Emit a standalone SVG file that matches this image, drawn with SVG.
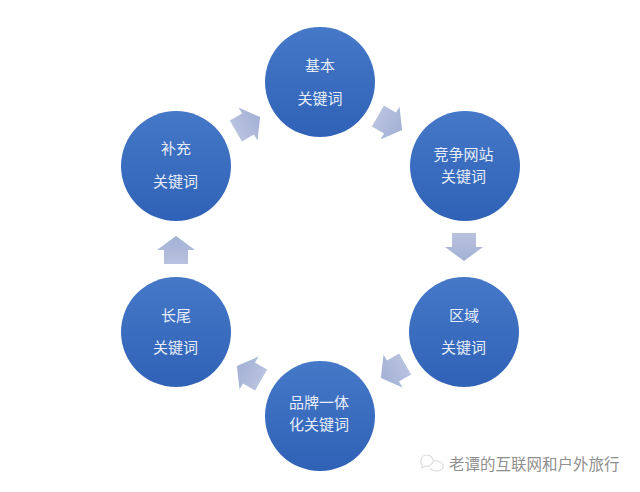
<svg xmlns="http://www.w3.org/2000/svg" width="640" height="492" viewBox="0 0 640 492">
<style>
.n{fill:url(#c)}
.t{font-family:"Noto Sans CJK SC","Noto Sans",sans-serif;font-size:15px;fill:#e6edf9;text-anchor:middle}
.a{fill:url(#g)}
.w{font-family:"Noto Sans CJK SC","Noto Sans",sans-serif;font-size:15.5px;fill:#8f8f8f}
</style>
<defs>
<linearGradient id="c" x1="0" y1="0" x2="0" y2="1"><stop offset="0" stop-color="#4678c8"/><stop offset="1" stop-color="#2f62b6"/></linearGradient>
<linearGradient id="g" x1="0" y1="0" x2="0" y2="1"><stop offset="0" stop-color="#b9c2de"/><stop offset="1" stop-color="#a3b1d6"/></linearGradient>
<path id="arr" d="M-12-14H12V0H19L0,14L-19,0H-12Z"/>
</defs>
<rect width="640" height="492" fill="#fff"/>
<g id="connectors">
<use href="#arr" class="a" transform="translate(390 123) rotate(-60)"/>
<use href="#arr" class="a" transform="translate(464 247)"/>
<use href="#arr" class="a" transform="translate(393 371) rotate(60)"/>
<use href="#arr" class="a" transform="translate(249 373) rotate(120)"/>
<use href="#arr" class="a" transform="translate(176 250) rotate(180)"/>
<use href="#arr" class="a" transform="translate(248 124) rotate(240)"/>
</g>
<g id="node-1"><circle class="n" cx="320" cy="82" r="55"/><text class="t" x="320" y="71">基本</text><text class="t" x="320" y="104">关键词</text></g>
<g id="node-2"><circle class="n" cx="465" cy="166" r="55"/><text class="t" x="463.500" y="160">竞争网站</text><text class="t" x="463.500" y="182">关键词</text></g>
<g id="node-3"><circle class="n" cx="464" cy="332" r="55"/><text class="t" x="464" y="321">区域</text><text class="t" x="463.500" y="353">关键词</text></g>
<g id="node-4"><circle class="n" cx="320" cy="416" r="55"/><text class="t" x="319" y="408">品牌一体</text><text class="t" x="319" y="430">化关键词</text></g>
<g id="node-5"><circle class="n" cx="176" cy="332" r="55"/><text class="t" x="176" y="321">长尾</text><text class="t" x="175.500" y="353">关键词</text></g>
<g id="node-6"><circle class="n" cx="176" cy="166" r="55"/><text class="t" x="176" y="154">补充</text><text class="t" x="175.500" y="187">关键词</text></g>
<g id="watermark">
<g fill="none" stroke="#dcdcdc" stroke-width="1.2"><path d="M421 461c0-4 3-6 6-6s7 3 6 7c-1 3-5 5-8 4l-3 2 0-3c-1-1-1-2-1-4Z"/><path d="M433 461c4-1 9 1 10 4s-2 6-6 6c-3 0-6-1-7-3"/></g>
<text class="w" x="449" y="470">老谭的互联网和户外旅行</text>
</g>
</svg>
